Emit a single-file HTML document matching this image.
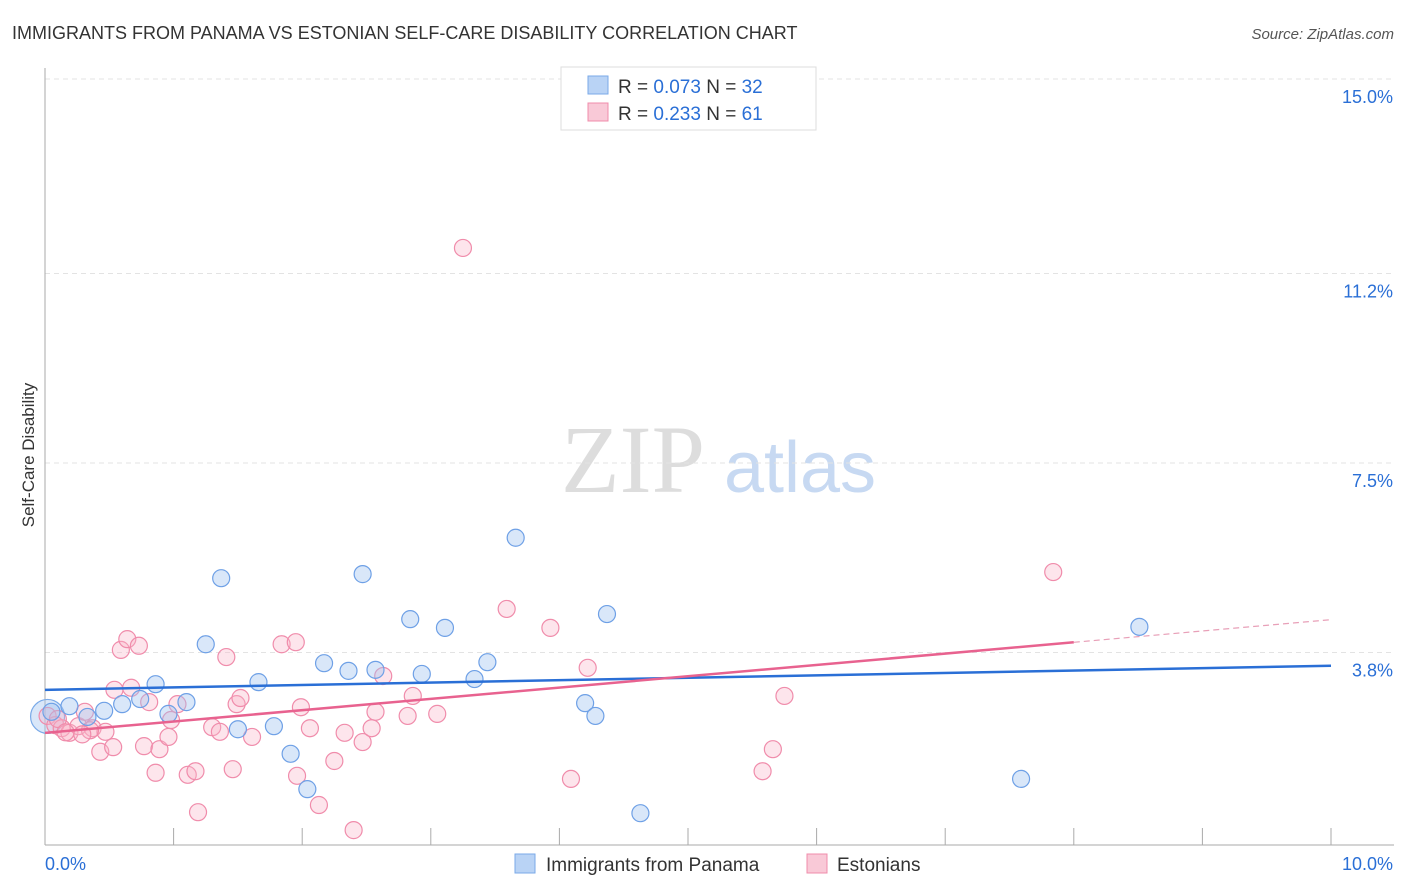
<!DOCTYPE html>
<html><head><meta charset="utf-8"><style>
body{margin:0;background:#fff;font-family:"Liberation Sans",sans-serif;}
svg{display:block}
</style></head><body>
<svg id="chart" width="1406" height="892">
<text x="12" y="39" font-size="18" fill="#333">IMMIGRANTS FROM PANAMA VS ESTONIAN SELF-CARE DISABILITY CORRELATION CHART</text>
<text x="1394" y="39" font-size="15" fill="#555" font-style="italic" text-anchor="end">Source: ZipAtlas.com</text>
<g>
<text x="633" y="492" font-size="96" fill="#ddd" font-family="Liberation Serif,serif" text-anchor="middle">ZIP</text>
<text x="800" y="492" font-size="72" fill="#c7d9f2" text-anchor="middle">atlas</text>
</g>
<g id="grid"></g>
<g id="axes"></g>
<g id="pts"></g>
<g id="trend"></g>
<text x="34" y="455" font-size="17" fill="#333" transform="rotate(-90 34 455)" text-anchor="middle">Self-Care Disability</text>
<g>
<rect x="561" y="67" width="255" height="63" fill="#fff" stroke="#ddd"/>
<rect x="588" y="76" width="20" height="18" fill="#b9d3f5" stroke="#7aaae8"/>
<text x="618" y="93" font-size="19" fill="#333">R = <tspan fill="#2a6fd6">0.073</tspan>   N = <tspan fill="#2a6fd6">32</tspan></text>
<rect x="588" y="103" width="20" height="18" fill="#f9c9d7" stroke="#f08cab"/>
<text x="618" y="120" font-size="19" fill="#333">R = <tspan fill="#2a6fd6">0.233</tspan>   N = <tspan fill="#2a6fd6">61</tspan></text>
</g>
<g>
<rect x="515" y="854" width="20" height="19" fill="#b9d3f5" stroke="#7aaae8"/>
<text x="546" y="871" font-size="19" fill="#333">Immigrants from Panama</text>
<rect x="807" y="854" width="20" height="19" fill="#f9c9d7" stroke="#f08cab"/>
<text x="837" y="871" font-size="19" fill="#333">Estonians</text>
</g>
</svg>
<script>
const yTicks=[3.8,7.5,11.2,15.0];
const yTickLabels=["3.8%","7.5%","11.2%","15.0%"];
const xTickLabels=["0.0%","10.0%"];
const blueX=[0.05,0.19,0.33,0.46,0.60,0.74,0.86,0.96,1.10,1.25,1.37,1.50,1.66,1.78,1.91,2.04,2.17,2.36,2.47,2.57,2.84,2.93,3.11,3.34,3.44,3.66,4.20,4.28,4.37,4.63,7.59,8.51];
const blueY=[2.64,2.75,2.54,2.66,2.79,2.89,3.18,2.60,2.83,3.96,5.25,2.30,3.22,2.36,1.82,1.13,3.59,3.44,5.33,3.46,4.45,3.38,4.28,3.28,3.61,6.04,2.81,2.56,4.55,0.66,1.33,4.30];
const pinkX=[0.02,0.08,0.13,0.19,0.26,0.31,0.37,0.43,0.47,0.53,0.54,0.59,0.64,0.67,0.73,0.77,0.81,0.86,0.89,0.96,0.98,1.03,1.11,1.17,1.19,1.30,1.36,1.41,1.46,1.49,1.52,1.61,1.84,1.95,1.96,1.99,2.06,2.13,2.25,2.33,2.40,2.47,2.54,2.57,2.63,2.82,2.86,3.05,3.25,3.59,3.93,4.09,4.22,5.58,5.66,5.75,7.84,0.10,0.16,0.35,0.29];
const pinkY=[2.56,2.38,2.32,2.23,2.36,2.64,2.32,1.86,2.25,1.95,3.07,3.85,4.06,3.11,3.93,1.97,2.83,1.45,1.91,2.15,2.48,2.79,1.41,1.48,0.68,2.34,2.25,3.71,1.52,2.79,2.91,2.15,3.96,4.00,1.39,2.73,2.32,0.82,1.68,2.23,0.33,2.05,2.32,2.64,3.34,2.56,2.95,2.60,11.70,4.65,4.28,1.33,3.50,1.48,1.91,2.95,5.37,2.50,2.24,2.28,2.20];
const blueTrend=[3.07,0.047];
const pinkTrend=[2.23,0.221];
const pinkSolidEnd=8.0;
const X0=45,X1=1331,Y0=847,PPU=51.2;
const sx=v=>X0+(X1-X0)*v/10, sy=v=>Y0-v*PPU;
const NS="http://www.w3.org/2000/svg";
function mk(t,a,p){const e=document.createElementNS(NS,t);for(const k in a)e.setAttribute(k,a[k]);p.appendChild(e);return e;}
const grid=document.getElementById('grid'),axes=document.getElementById('axes'),pts=document.getElementById('pts'),tr=document.getElementById('trend');
yTicks.forEach((t,i)=>{
 const y=i==3?79:sy(t);
 const l=mk('line',{x1:X0,x2:1394,y1:y,y2:y,stroke:'#e3e3e3','stroke-dasharray':'5,4'},grid);
 
 
 const tx=mk('text',{x:1393,y:y+24,'font-size':18,fill:'#2a6fd6','text-anchor':'end'},axes);
 tx.textContent=yTickLabels[i];
 
 
});
const ax=mk('line',{x1:X0,x2:X0,y1:68,y2:845,stroke:'#aaa'},axes);


const bx=mk('line',{x1:X0,x2:1394,y1:845,y2:845,stroke:'#aaa'},axes);


for(let i=0;i<=10;i++){const x=sx(i);const t=mk('line',{x1:x,x2:x,y1:828,y2:845,stroke:'#aaa'},axes);
 
 }
[[xTickLabels[0],45,'start'],[xTickLabels[1],1393,'end']].forEach(([s,x,a])=>{const t=mk('text',{x:x,y:870,'font-size':18,fill:'#2a6fd6','text-anchor':a},axes);t.textContent=s;
 
 });
const big1=mk('circle',{cx:sx(0.02),cy:sy(2.55),r:17,fill:'rgba(160,196,240,0.4)',stroke:'#7aaae8','stroke-width':1.2},pts);


pinkX.forEach((v,i)=>{const c=mk('circle',{cx:sx(v),cy:sy(pinkY[i]),r:8.5,fill:'rgba(248,180,200,0.35)',stroke:'#f08cab','stroke-width':1.2},pts);
 
 });
blueX.forEach((v,i)=>{const c=mk('circle',{cx:sx(v),cy:sy(blueY[i]),r:8.5,fill:'rgba(160,196,240,0.4)',stroke:'#6ea0e6','stroke-width':1.2},pts);
 
 });
const bl=mk('line',{x1:sx(0),y1:sy(blueTrend[0]),x2:sx(10),y2:sy(blueTrend[0]+10*blueTrend[1]),stroke:'#2a6fd6','stroke-width':2.5},tr);


const pl=mk('line',{x1:sx(0),y1:sy(pinkTrend[0]),x2:sx(pinkSolidEnd),y2:sy(pinkTrend[0]+pinkSolidEnd*pinkTrend[1]),stroke:'#e8628f','stroke-width':2.5},tr);


const pd=mk('line',{x1:sx(pinkSolidEnd),y1:sy(pinkTrend[0]+pinkSolidEnd*pinkTrend[1]),x2:sx(10),y2:sy(pinkTrend[0]+10*pinkTrend[1]),stroke:'#e8a0b8','stroke-width':1.2,'stroke-dasharray':'6,4'},tr);


</script>
</body></html>
